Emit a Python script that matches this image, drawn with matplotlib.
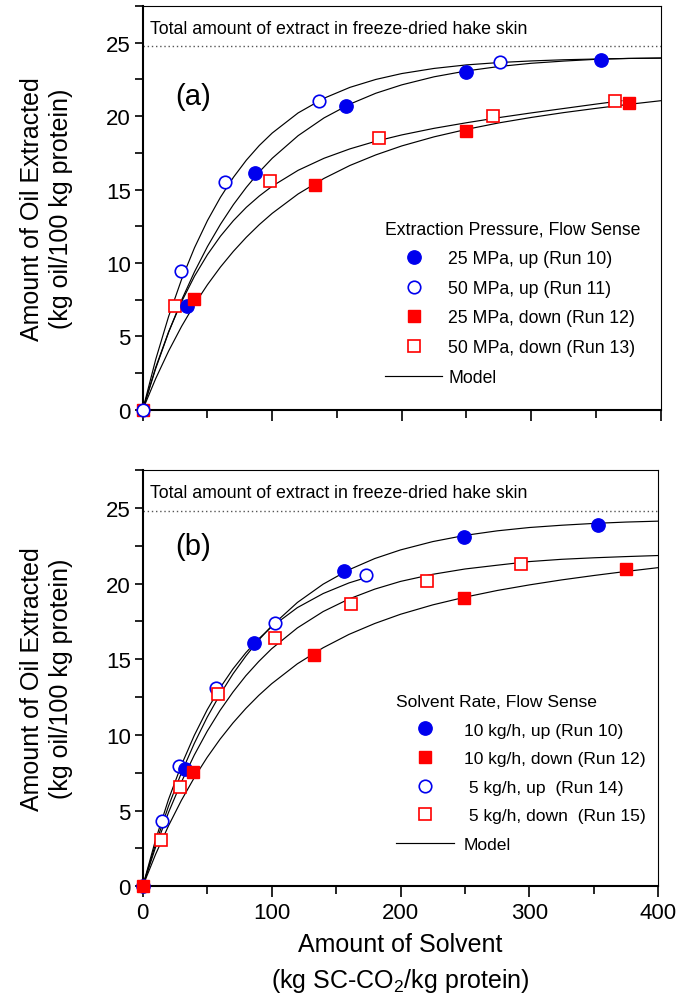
import matplotlib
matplotlib.use('Agg')
import matplotlib.pyplot as plt
from matplotlib.ticker import MultipleLocator

plt.rcParams['font.family'] = ['Liberation Sans', 'DejaVu Sans']
plt.rcParams['mathtext.fontset'] = 'custom'
plt.rcParams['mathtext.rm'] = 'Liberation Sans'
plt.rcParams['mathtext.it'] = 'Liberation Sans'

# ---------------- data: panel (a) ----------------
a_run10_x = [34, 86.4, 157.1, 249.6, 353.7]
a_run10_y = [7.05, 16.1, 20.7, 23.0, 23.84]
a_run11_x = [0, 29.3, 63.3, 135.8, 276]
a_run11_y = [0, 9.43, 15.5, 21.0, 23.7]
a_run12_x = [0, 39.9, 133.0, 249.6, 375.8]
a_run12_y = [0, 7.55, 15.3, 19.02, 20.9]
a_run13_x = [24.9, 98.6, 182.7, 270.7, 364.7]
a_run13_y = [7.05, 15.57, 18.52, 20.04, 21.02]

model_x = [0, 10, 20, 30, 40, 50, 60, 70, 80, 90, 100, 120, 140, 160, 180,
           200, 225, 250, 275, 300, 325, 350, 375, 400]
a_model10 = [0, 2.80, 5.28, 7.47, 9.40, 11.12, 12.63, 13.97, 15.15, 16.20, 17.13,
             18.67, 19.88, 20.82, 21.56, 22.13, 22.68, 23.08, 23.38, 23.60, 23.75,
             23.87, 23.93, 23.96]
a_model11 = [0, 3.42, 6.36, 8.88, 11.04, 12.89, 14.47, 15.83, 17.00, 18.00, 18.85,
             20.22, 21.22, 21.96, 22.50, 22.90, 23.25, 23.49, 23.65, 23.76, 23.84,
             23.89, 23.93, 23.95]
a_model12 = [0, 2.12, 4.00, 5.68, 7.18, 8.52, 9.72, 10.79, 11.75, 12.61, 13.38,
             14.70, 15.76, 16.64, 17.36, 17.97, 18.59, 19.10, 19.54, 19.91, 20.24,
             20.53, 20.80, 21.05]
a_model13_x = [0, 10, 20, 30, 40, 50, 60, 70, 80, 90, 100, 120, 140, 160, 180,
               200, 225, 250, 275, 300, 325, 350, 370]
a_model13 = [0, 2.88, 5.31, 7.36, 9.10, 10.57, 11.82, 12.88, 13.79, 14.56, 15.23,
             16.31, 17.13, 17.77, 18.29, 18.72, 19.17, 19.55, 19.90, 20.22, 20.52,
             20.82, 21.05]

# ---------------- data: panel (b) ----------------
b_run10_x = [0, 32.8, 86.2, 156.2, 249.5, 353.5]
b_run10_y = [0, 7.75, 16.1, 20.8, 23.07, 23.88]
b_run12_x = [0, 39.3, 133.0, 249.5, 374.9]
b_run12_y = [0, 7.53, 15.3, 19.05, 20.97]
b_run14_x = [15.0, 28.4, 56.9, 102.5, 173.2]
b_run14_y = [4.34, 7.97, 13.09, 17.4, 20.57]
b_run15_x = [14.0, 28.9, 58.2, 103.0, 161.3, 220.3, 293.5]
b_run15_y = [3.06, 6.58, 12.71, 16.4, 18.66, 20.16, 21.26]

b_model10 = [0, 2.81, 5.30, 7.50, 9.44, 11.17, 12.68, 14.03, 15.21, 16.27, 17.20,
             18.75, 19.96, 20.91, 21.65, 22.22, 22.77, 23.18, 23.48, 23.70, 23.85,
             23.97, 24.06, 24.12]
b_model12 = a_model12
b_model14_x = [0, 10, 20, 30, 40, 50, 60, 70, 80, 90, 100, 120, 140, 160, 174]
b_model14 = [0, 3.08, 5.74, 8.01, 9.97, 11.66, 13.11, 14.36, 15.43, 16.35, 17.14,
             18.41, 19.34, 20.04, 20.41]
b_model15 = [0, 2.59, 4.88, 6.89, 8.67, 10.24, 11.62, 12.83, 13.91, 14.85, 15.69,
             17.07, 18.15, 18.98, 19.63, 20.14, 20.61, 20.96, 21.21, 21.45, 21.60,
             21.70, 21.78, 21.85]

total_extract = 24.8

a_labels = ['25 MPa, up (Run 10)', '50 MPa, up (Run 11)',
            '25 MPa, down (Run 12)', '50 MPa, down (Run 13)', 'Model']
b_labels = ['10 kg/h, up (Run 10)', '10 kg/h, down (Run 12)',
            ' 5 kg/h, up  (Run 14)', ' 5 kg/h, down  (Run 15)', 'Model']

BLUE = '#0000ee'
RED = '#ff0000'

fig = plt.figure(figsize=(6.8, 10.04), dpi=100)
axA = fig.add_axes([0.2099, 0.5909, 0.7618, 0.4021])
axB = fig.add_axes([0.2099, 0.1162, 0.7582, 0.4147])

filled_circle = dict(marker='o', ls='none', ms=9.6, mfc=BLUE, mec=BLUE, zorder=4, clip_on=False)
hollow_circle = dict(marker='o', ls='none', ms=9.0, mfc='white', mec=BLUE, mew=1.2, zorder=3, clip_on=False)
filled_square = dict(marker='s', ls='none', ms=8.6, mfc=RED, mec=RED, zorder=4, clip_on=False)
hollow_square = dict(marker='s', ls='none', ms=8.4, mfc='white', mec=RED, mew=1.2, zorder=3, clip_on=False)
model_style = dict(color='black', lw=0.85, zorder=2)


def style_axes(ax, show_xlabels):
    ax.set_xlim(0, 400)
    ax.set_ylim(0, 27.5)
    ax.xaxis.set_major_locator(MultipleLocator(100))
    ax.xaxis.set_minor_locator(MultipleLocator(50))
    ax.yaxis.set_major_locator(MultipleLocator(5))
    ax.yaxis.set_minor_locator(MultipleLocator(2.5))
    ax.tick_params(axis='x', which='major', direction='out', length=8, width=1.2,
                   labelsize=16, pad=3, labelbottom=show_xlabels)
    ax.tick_params(axis='x', which='minor', direction='out', length=5.5, width=1.2)
    ax.tick_params(axis='y', which='major', direction='out', length=5.5, width=1.2,
                   labelsize=16, pad=3)
    ax.tick_params(axis='y', which='minor', direction='out', length=5.5, width=1.2)
    ax.spines['left'].set_linewidth(1.5)
    ax.spines['bottom'].set_linewidth(1.5)
    ax.spines['top'].set_linewidth(0.8)
    ax.spines['right'].set_linewidth(0.8)
    ax.axhline(total_extract, color='#555555', lw=1.0, ls=(0, (1, 2)), zorder=1)
    ax.text(5.5, 26.0, 'Total amount of extract in freeze-dried hake skin',
            fontsize=12.8, ha='left', va='center')
    ax.set_ylabel('Amount of Oil Extracted\n(kg oil/100 kg protein)', fontsize=18,
                  linespacing=1.25, labelpad=24)


# ---------------- panel (a) ----------------
style_axes(axA, False)
axA.plot(model_x, a_model10, **model_style)
axA.plot(model_x, a_model11, **model_style)
axA.plot(model_x, a_model12, **model_style)
lm, = axA.plot(a_model13_x, a_model13, **model_style)
h1, = axA.plot(a_run10_x, a_run10_y, **filled_circle)
h3, = axA.plot(a_run12_x, a_run12_y, **filled_square)
h4, = axA.plot(a_run13_x, a_run13_y, **hollow_square)
h2, = axA.plot(a_run11_x, a_run11_y, **dict(hollow_circle, zorder=5))
axA.text(25, 21.4, '(a)', fontsize=21, ha='left', va='center')
legA = axA.legend([h1, h2, h3, h4, lm], a_labels, loc='upper left',
                  bbox_to_anchor=(0.468, 0.469), frameon=False, fontsize=12.7,
                  title='Extraction Pressure, Flow Sense', title_fontsize=12.7,
                  alignment='left', handlelength=3.25, handletextpad=0.32,
                  labelspacing=0.72, borderpad=0, borderaxespad=0)

# ---------------- panel (b) ----------------
style_axes(axB, True)
axB.plot(model_x, b_model10, **model_style)
axB.plot(model_x, b_model12, **model_style)
axB.plot(b_model14_x, b_model14, **model_style)
lmb, = axB.plot(model_x, b_model15, **model_style)
g3, = axB.plot(b_run14_x, b_run14_y, **hollow_circle)
g4, = axB.plot(b_run15_x, b_run15_y, **hollow_square)
g1, = axB.plot(b_run10_x, b_run10_y, **filled_circle)
g2, = axB.plot(b_run12_x, b_run12_y, **filled_square)
axB.text(25, 22.5, '(b)', fontsize=21, ha='left', va='center')
legB = axB.legend([g1, g2, g3, g4, lmb], b_labels, loc='upper left',
                  bbox_to_anchor=(0.491, 0.462), frameon=False, fontsize=12.6,
                  title='Solvent Rate, Flow Sense', title_fontsize=12.6,
                  alignment='left', handlelength=3.3, handletextpad=0.59,
                  labelspacing=0.76, borderpad=0, borderaxespad=0)
axB.set_xlabel('Amount of Solvent\n(kg SC-CO$_2$/kg protein)', fontsize=18,
               linespacing=1.45, labelpad=7)

fig.savefig('out.png', dpi=100)
